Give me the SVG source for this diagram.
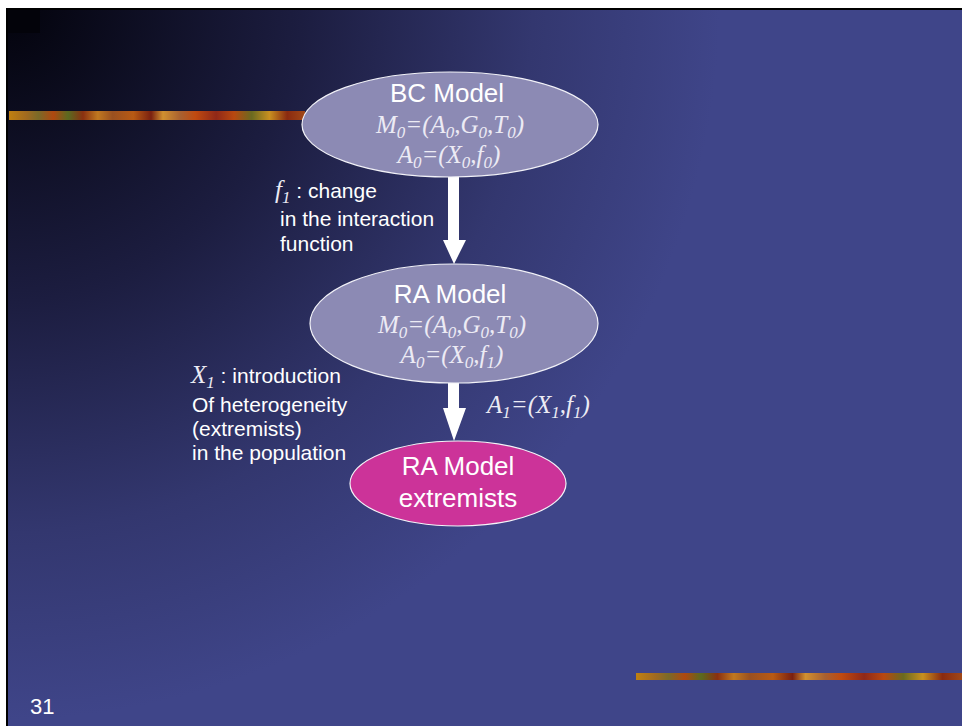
<svg xmlns="http://www.w3.org/2000/svg" width="962" height="726" viewBox="0 0 962 726">
  <style>
    .sans { font-family: "Liberation Sans", Arial, sans-serif; fill: #ffffff; }
    .math { font-family: "Liberation Serif", "Times New Roman", serif; font-style: italic; fill: #ecebf4; }
    .node { fill: #8c8ab4; stroke: #f2f2f8; stroke-width: 1.2; }
    .hot { fill: #cc3399; stroke: #f4f4f8; stroke-width: 1.2; }
    .arrow { fill: #ffffff; }
  </style>
  <defs>
    <radialGradient id="slideBg" gradientUnits="userSpaceOnUse" cx="0" cy="0" r="720">
      <stop offset="0" stop-color="#02020a"/>
      <stop offset="0.42" stop-color="#1c1d40"/>
      <stop offset="0.74" stop-color="#33376f"/>
      <stop offset="1" stop-color="#3f4589"/>
    </radialGradient>
    <linearGradient id="stripe" x1="0" y1="0" x2="1" y2="0">
      <stop offset="0" stop-color="#c08010"/>
      <stop offset="0.06" stop-color="#a06a20"/>
      <stop offset="0.1" stop-color="#7a6a28"/>
      <stop offset="0.15" stop-color="#b04810"/>
      <stop offset="0.2" stop-color="#5a6a20"/>
      <stop offset="0.25" stop-color="#8a3010"/>
      <stop offset="0.3" stop-color="#c07820"/>
      <stop offset="0.35" stop-color="#9a5020"/>
      <stop offset="0.42" stop-color="#b85a14"/>
      <stop offset="0.48" stop-color="#7a2010"/>
      <stop offset="0.52" stop-color="#d09030"/>
      <stop offset="0.58" stop-color="#a86030"/>
      <stop offset="0.63" stop-color="#c04a10"/>
      <stop offset="0.7" stop-color="#902818"/>
      <stop offset="0.76" stop-color="#b84810"/>
      <stop offset="0.82" stop-color="#6a6a20"/>
      <stop offset="0.88" stop-color="#c89020"/>
      <stop offset="0.94" stop-color="#8a2a10"/>
      <stop offset="1" stop-color="#a04818"/>
    </linearGradient>
  </defs>

  <!-- page frame -->
  <rect x="0" y="0" width="962" height="726" fill="#ffffff"/>
  <rect x="6" y="8" width="956" height="718" fill="#000000"/>
  <rect x="8" y="10" width="954" height="716" fill="url(#slideBg)"/>
  <rect x="8" y="10" width="32" height="23" fill="#03030a"/>

  <!-- decorative texture stripes -->
  <rect x="9" y="111" width="296" height="9" fill="url(#stripe)"/>
  <rect x="636" y="673" width="326" height="7" fill="url(#stripe)"/>

  <!-- connectors -->
  <g id="connectors">
    <polygon class="arrow" points="448,176 459,176 459,240 466,240 454,264 443,240 448,240"/>
    <polygon class="arrow" points="448,383 459,383 459,408 466,408 454,441 443,408 448,408"/>
  </g>

  <!-- BC model -->
  <g id="bc-model">
    <ellipse class="node" cx="450" cy="124.5" rx="148" ry="52.5"/>
    <text class="sans" x="447" y="102" font-size="26" text-anchor="middle">BC Model</text>
    <text class="math" x="450" y="133" font-size="25" text-anchor="middle">M<tspan dy="5" font-size="17">0</tspan><tspan dy="-5">=(A</tspan><tspan dy="5" font-size="17">0</tspan><tspan dy="-5">,G</tspan><tspan dy="5" font-size="17">0</tspan><tspan dy="-5">,T</tspan><tspan dy="5" font-size="17">0</tspan><tspan dy="-5">)</tspan></text>
    <text class="math" x="449" y="163" font-size="25" text-anchor="middle">A<tspan dy="5" font-size="17">0</tspan><tspan dy="-5">=(X</tspan><tspan dy="5" font-size="17">0</tspan><tspan dy="-5">,f</tspan><tspan dy="5" font-size="17">0</tspan><tspan dy="-5">)</tspan></text>
  </g>

  <!-- RA model -->
  <g id="ra-model">
    <ellipse class="node" cx="454" cy="323.5" rx="144" ry="59.5"/>
    <text class="sans" x="450" y="303" font-size="26" text-anchor="middle">RA Model</text>
    <text class="math" x="452" y="333" font-size="25" text-anchor="middle">M<tspan dy="5" font-size="17">0</tspan><tspan dy="-5">=(A</tspan><tspan dy="5" font-size="17">0</tspan><tspan dy="-5">,G</tspan><tspan dy="5" font-size="17">0</tspan><tspan dy="-5">,T</tspan><tspan dy="5" font-size="17">0</tspan><tspan dy="-5">)</tspan></text>
    <text class="math" x="452" y="363" font-size="25" text-anchor="middle">A<tspan dy="5" font-size="17">0</tspan><tspan dy="-5">=(X</tspan><tspan dy="5" font-size="17">0</tspan><tspan dy="-5">,f</tspan><tspan dy="5" font-size="17">1</tspan><tspan dy="-5">)</tspan></text>
  </g>

  <!-- RA model with extremists -->
  <g id="ra-extremists">
    <ellipse class="hot" cx="458" cy="483.5" rx="108" ry="42.5"/>
    <text class="sans" x="458" y="475" font-size="26" text-anchor="middle">RA Model</text>
    <text class="sans" x="458" y="507" font-size="26" text-anchor="middle">extremists</text>
  </g>

  <!-- edge labels -->
  <g id="label-f1">
    <text x="275" y="198" font-size="21"><tspan class="math" font-size="25">f</tspan><tspan class="math" dy="5" font-size="17">1</tspan><tspan class="sans" dy="-5"> : change</tspan></text>
    <text class="sans" x="280" y="226" font-size="21">in the interaction</text>
    <text class="sans" x="280" y="251" font-size="21">function</text>
  </g>

  <g id="label-x1">
    <text x="191" y="383" font-size="21"><tspan class="math" font-size="25">X</tspan><tspan class="math" dy="5" font-size="17">1</tspan><tspan class="sans" dy="-5"> : introduction</tspan></text>
    <text class="sans" x="192" y="412" font-size="21">Of heterogeneity</text>
    <text class="sans" x="192" y="436" font-size="21">(extremists)</text>
    <text class="sans" x="192" y="460" font-size="21">in the population</text>
  </g>

  <g id="label-a1">
    <text class="math" x="487" y="413" font-size="25">A<tspan dy="5" font-size="17">1</tspan><tspan dy="-5">=(X</tspan><tspan dy="5" font-size="17">1</tspan><tspan dy="-5">,f</tspan><tspan dy="5" font-size="17">1</tspan><tspan dy="-5">)</tspan></text>
  </g>

  <!-- slide number -->
  <text class="sans" x="30" y="714" font-size="22">31</text>
</svg>
